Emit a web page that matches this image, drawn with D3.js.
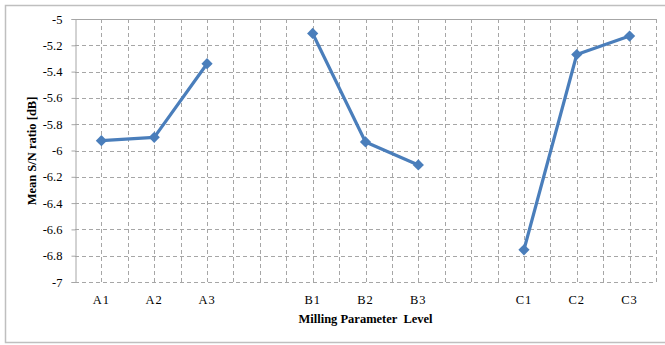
<!DOCTYPE html>
<html>
<head>
<meta charset="utf-8">
<script src="https://cdn.jsdelivr.net/npm/d3@7"></script>
<style>
  body { margin: 0; background: #fff; }
  text { font-family: "Liberation Serif", "Times New Roman", serif; }
</style>
</head>
<body>
<div id="wrapper"></div>
<script>
// categories incl. blank spacers between factor groups
const categories = ["A1", "A2", "A3", "", "B1", "B2", "B3", " ", "C1", "C2", "C3"];
const groupA = [["A1", -5.925], ["A2", -5.90], ["A3", -5.34]];
const groupB = [["B1", -5.11], ["B2", -5.935], ["B3", -6.11]];
const groupC = [["C1", -6.755], ["C2", -5.27], ["C3", -5.13]];
const yTicks = [-5, -5.2, -5.4, -5.6, -5.8, -6, -6.2, -6.4, -6.6, -6.8, -7];

function buildPlot() {
    var dimension = {
        width: 665,
        height: 345,
        margin: { top: 19, left: 75, bottom: 63, right: 9 }
    };
    dimension.boundedWidth = dimension.width - dimension.margin.left - dimension.margin.right;
    dimension.boundedHeight = dimension.height - dimension.margin.top - dimension.margin.bottom;

    const svg = d3.select("#wrapper").append("svg")
        .attr("width", dimension.width)
        .attr("height", dimension.height);

    // outer chart border
    svg.append("rect")
        .attr("x", 5.5).attr("y", 5.5)
        .attr("width", 680).attr("height", 337)
        .attr("fill", "none").attr("stroke", "#bfbfbf").attr("stroke-width", 1.5);

    const g = svg.append("g")
        .attr("transform", `translate(${dimension.margin.left},${dimension.margin.top})`);

    const xScale = d3.scaleBand()
        .domain(categories)
        .range([0, dimension.boundedWidth]);
    const yScale = d3.scaleLinear()
        .domain([-7, -5])
        .range([dimension.boundedHeight, 0]);

    // vertical gridlines at category edges and centres
    const half = xScale.bandwidth() / 2;
    const vLines = d3.range(categories.length * 2 + 1).map(i => i * half);
    g.append("g").selectAll("line").data(vLines.slice(1)).join("line")
        .attr("x1", d => Math.round(d) + 0.5).attr("x2", d => Math.round(d) + 0.5)
        .attr("y1", 0).attr("y2", dimension.boundedHeight)
        .attr("stroke", "#a6a6a6").attr("stroke-dasharray", "4,3");

    // horizontal gridlines
    g.append("g").selectAll("line").data(yTicks.filter(d => d !== -5)).join("line")
        .attr("x1", 0).attr("x2", dimension.boundedWidth)
        .attr("y1", d => Math.round(yScale(d)) + 0.5).attr("y2", d => Math.round(yScale(d)) + 0.5)
        .attr("stroke", "#a6a6a6").attr("stroke-dasharray", "4,3");

    // top line
    g.append("line")
        .attr("x1", 0).attr("x2", dimension.boundedWidth)
        .attr("y1", Math.round(yScale(-5)) + 0.5).attr("y2", Math.round(yScale(-5)) + 0.5)
        .attr("stroke", "#a6a6a6");

    // y axis
    const yAxis = g.append("g")
        .attr("transform", "translate(0.5,0)")
        .call(d3.axisLeft(yScale).tickValues(yTicks).tickSize(4).tickPadding(9).tickFormat(d => String(d)));
    yAxis.select(".domain").attr("stroke", "#a6a6a6");
    yAxis.selectAll(".tick line").attr("stroke", "#a6a6a6");
    yAxis.selectAll("text").attr("font-size", 12.5).attr("fill", "#000");

    // x labels
    g.append("g").selectAll("text").data(categories.filter(c => c.trim() !== "")).join("text")
        .attr("x", d => xScale(d) + half)
        .attr("y", dimension.boundedHeight + 22)
        .attr("text-anchor", "middle")
        .attr("font-size", 12.5)
        .attr("letter-spacing", 1)
        .text(d => d);

    // series (one broken line per factor group)
    const line = d3.line()
        .x(d => xScale(d[0]) + half)
        .y(d => yScale(d[1]));
    const groups = [groupA, groupB, groupC];
    g.append("g").selectAll("path").data(groups).join("path")
        .attr("d", line)
        .attr("fill", "none")
        .attr("stroke", "#4a7ebb")
        .attr("stroke-width", 3.2)
        .attr("stroke-linejoin", "round");

    const diamond = d3.symbol().type(d3.symbolDiamond2).size(80);
    g.append("g").selectAll("path").data(groups.flat()).join("path")
        .attr("d", diamond)
        .attr("transform", d => `translate(${xScale(d[0]) + half},${yScale(d[1])})`)
        .attr("fill", "#4a7ebb");

    // axis titles
    svg.append("text")
        .attr("x", dimension.margin.left + dimension.boundedWidth / 2)
        .attr("y", 323)
        .attr("text-anchor", "middle")
        .attr("font-size", 12.5)
        .attr("font-weight", "bold")
        .attr("xml:space", "preserve")
        .text("Milling Parameter  Level");

    svg.append("text")
        .attr("transform", "translate(36,151) rotate(-90)")
        .attr("text-anchor", "middle")
        .attr("font-size", 12.5)
        .attr("font-weight", "bold")
        .text("Mean S/N ratio [dB]");
}

buildPlot();
</script>
</body>
</html>
